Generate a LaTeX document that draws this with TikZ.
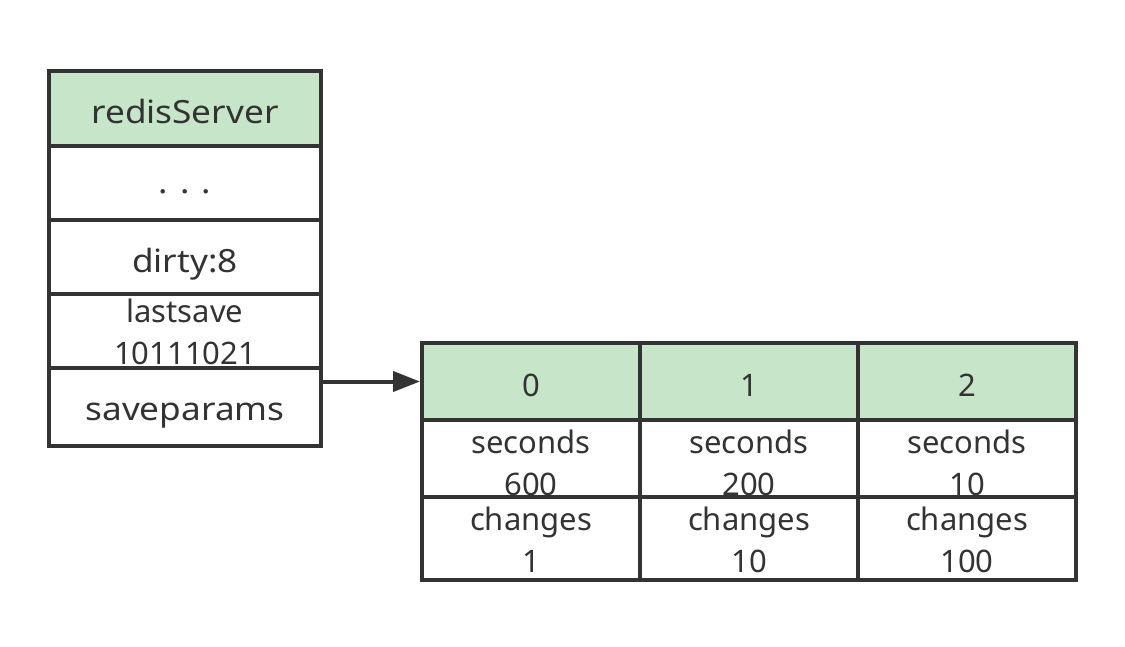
\documentclass[tikz,border=0pt]{standalone}
\usepackage{fontspec}
\setmainfont{Noto Sans}
\newfontfamily\widesans[FakeStretch=1.1]{Noto Sans}
\usetikzlibrary{arrows.meta}
\definecolor{hdr}{RGB}{198,229,201}
\definecolor{ink}{RGB}{51,51,51}
\begin{document}
\begin{tikzpicture}[x=1pt,y=-1pt,
  cell/.style={draw=ink,line width=4pt,inner sep=0pt},
  lcell/.style={cell,minimum width=272pt},
  rcell/.style={cell,minimum width=218pt},
  head/.style={fill=hdr},
  bigtxt/.style={anchor=base,inner sep=0pt,text=ink,font=\widesans\fontsize{32}{40}\selectfont},
  smalltxt/.style={anchor=base,inner sep=0pt,text=ink,font=\fontsize{31}{40}\selectfont},
  conn/.style={draw=ink,line width=4pt,-{Triangle[length=27pt,width=20pt]}}]
\useasboundingbox (0,0) rectangle (1125,646);
% left table
\node[lcell,head,minimum height=75pt] (title) at (185,108.5) {};
\node[lcell,minimum height=74pt] (dots) at (185,183) {};
\node[lcell,minimum height=74pt] (dirty) at (185,257) {};
\node[lcell,minimum height=74pt] (last) at (185,331) {};
\node[lcell,minimum height=78pt] (sp) at (185,407) {};
\node[bigtxt] (titlet) at ([yshift=-14.5pt]title.center) {redisServer};
\node[bigtxt] (dotst) at ([yshift=-10pt]dots.center) {.\hspace{0.38em}.\hspace{0.38em}.};
\node[bigtxt] (dirtyt) at ([yshift=-15pt]dirty.center) {dirty:8};
\node[smalltxt] (lasta) at ([yshift=9pt]last.center) {lastsave};
\node[smalltxt] (lastb) at ([yshift=-33pt]last.center) {10111021};
\node[bigtxt] (spt) at ([yshift=-13.5pt]sp.center) {saveparams};
% right table
\foreach \i/\x/\s/\c in {0/531/600/1,1/749/200/10,2/967/10/100}{
  \node[rcell,head,minimum height=77pt] (h\i) at (\x,381.5) {};
  \node[rcell,minimum height=77pt] (s\i) at (\x,458.5) {};
  \node[rcell,minimum height=83pt] (c\i) at (\x,538.5) {};
  \node[smalltxt] (h\i t) at ([yshift=-14.5pt]h\i.center) {\i};
  \node[smalltxt] (s\i a) at ([yshift=5.5pt]s\i.center) {seconds};
  \node[smalltxt] (s\i b) at ([yshift=-36.5pt]s\i.center) {\s};
  \node[smalltxt] (c\i a) at ([yshift=8.5pt]c\i.center) {changes};
  \node[smalltxt] (c\i b) at ([yshift=-33.5pt]c\i.center) {\c};
}
% connector
\draw[conn] (sp.east |- h0.west) -- (h0.west);
\end{tikzpicture}
\end{document}
